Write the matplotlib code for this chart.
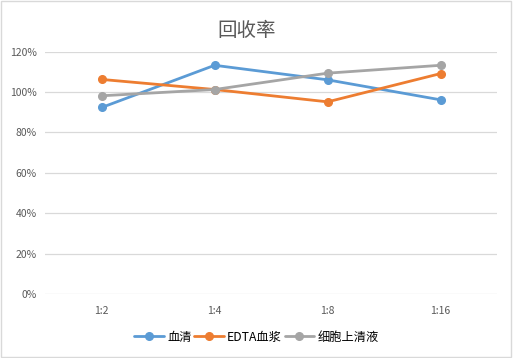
import matplotlib
matplotlib.use("Agg")
import matplotlib.pyplot as plt
from matplotlib.ticker import FuncFormatter, MultipleLocator
from matplotlib.patches import Rectangle

plt.rcParams['font.family'] = ['Noto Sans CJK SC', 'DejaVu Sans']

categories = ["1:2", "1:4", "1:8", "1:16"]
serum = [92.3, 113.2, 106.0, 96.1]
edta = [106.2, 101.2, 95.1, 109.1]
supernatant = [98.1, 101.2, 109.3, 113.2]
series_names = ["血清", "EDTA血浆", "细胞上清液"]
colors = ["#5B9BD5", "#ED7D31", "#A5A5A5"]

fig = plt.figure(figsize=(5.13, 3.58), dpi=100)
ax = fig.add_axes([0.088, 0.179, 0.881, 0.677])

x = list(range(len(categories)))
for vals, name, c in zip([serum, edta, supernatant], series_names, colors):
    ax.plot(x, vals, color=c, lw=2.0, marker='o', ms=5.5, label=name,
            solid_capstyle='round')

ax.set_xlim(-0.5, len(categories) - 0.5)
ax.set_ylim(0, 120)
ax.yaxis.set_major_locator(MultipleLocator(20))
ax.yaxis.set_major_formatter(FuncFormatter(lambda v, p: f"{int(round(v))}%"))
ax.set_xticks(x)
ax.set_xticklabels(categories)
ax.grid(axis='y', color='#D9D9D9', lw=0.9)
ax.set_axisbelow(True)
for s in ax.spines.values():
    s.set_visible(False)
ax.tick_params(axis='both', length=0, labelsize=7.5, colors='#595959', pad=6)
ax.tick_params(axis='x', pad=9)

fig.text(0.48, 0.915, "回收率", ha='center', va='center', fontsize=14,
         color='#595959', fontweight='light')

leg = fig.legend(loc='center', bbox_to_anchor=(0.5, 0.058), ncol=3, frameon=False,
                 fontsize=8.8, handlelength=2.4, columnspacing=0.2, handletextpad=0.3,
                 labelcolor='#000000')

fig.patches.append(Rectangle((0.002, 0.003), 0.995, 0.994, transform=fig.transFigure,
                             fill=False, edgecolor='#D9D9D9', lw=1))

fig.savefig("out.png", dpi=100)
